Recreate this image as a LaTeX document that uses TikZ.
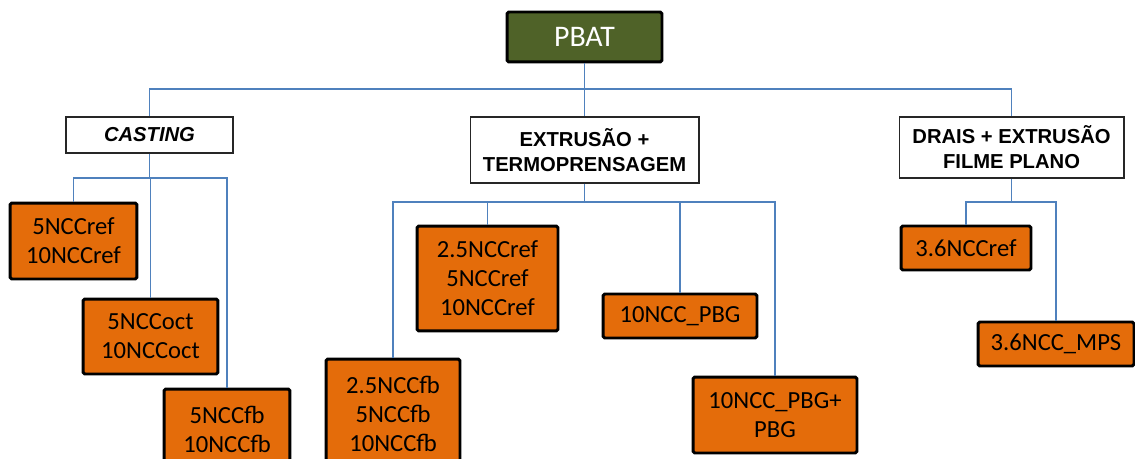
\documentclass[tikz,border=0pt]{standalone}
\usepackage{fontspec}
\setmainfont{Liberation Sans}
\newfontfamily\calibfont{Carlito}
\usepackage{tikz}
\usetikzlibrary{positioning}
\usepackage{xcolor}
\definecolor{rootgreen}{HTML}{4F6228}
\definecolor{leaforange}{HTML}{E46C0A}
\definecolor{linkblue}{HTML}{4F81BD}

\begin{document}
\begin{tikzpicture}[x=0.02cm,y=-0.02cm,
  root/.style={draw=black,line width=1.7pt,rounded corners=1pt,fill=rootgreen,text=white,
    font=\calibfont\fontsize{17}{20}\selectfont,minimum width=3.1cm,minimum height=1cm},
  method/.style={draw=black!85,line width=0.6pt,fill=white,align=center,inner sep=2pt,
    font=\bfseries\fontsize{11.5}{14.2}\selectfont},
  leaf/.style={draw=black,line width=1.7pt,rounded corners=1pt,fill=leaforange,align=center,
    inner sep=2pt,font=\calibfont\fontsize{14}{16.5}\selectfont},
  link/.style={draw=linkblue,line width=0.6pt}]
\useasboundingbox (0,0) rectangle (1135,459);
\clip (0,0) rectangle (1135,459);
% bus levels
\coordinate (topbus) at (0,89);
\coordinate (castbus) at (0,178);
\coordinate (extrbus) at (0,202);
\coordinate (draisbus) at (0,202);
% nodes
\node[root] (pbat) at (584.5,37) {PBAT};
\node[method,minimum width=3.34cm,minimum height=0.72cm] (cast) at (149.5,135) {\textit{CASTING}};
\node[method,minimum width=4.58cm,minimum height=1.32cm] (extr) at (584.5,150) {EXTRUSÃO +\\TERMOPRENSAGEM};
\node[method,minimum width=4.5cm,minimum height=1.22cm] (drais) at (1011.5,147.5) {DRAIS + EXTRUSÃO\\FILME PLANO};
\node[leaf,minimum width=2.54cm,minimum height=1.52cm] (ref5) at (73.5,241) {5NCCref\\10NCCref};
\node[leaf,minimum width=2.7cm,minimum height=1.5cm] (oct5) at (150.5,336.5) {5NCCoct\\10NCCoct};
\node[leaf,minimum width=2.52cm,minimum height=1.6cm] (fb5) at (227,429) {5NCCfb\\10NCCfb};
\node[leaf,minimum width=2.82cm,minimum height=2.1cm] (ref25) at (487.5,278.5) {2.5NCCref\\5NCCref\\10NCCref};
\node[leaf,minimum width=2.68cm,minimum height=2.2cm] (fb25) at (393,414) {2.5NCCfb\\5NCCfb\\10NCCfb};
\node[leaf,minimum width=3.08cm,minimum height=0.88cm] (pbg) at (680,316) {10NCC\_PBG};
\node[leaf,minimum width=3.28cm,minimum height=1.52cm] (pbgpbg) at (775,415) {10NCC\_PBG+\\PBG};
\node[leaf,minimum width=2.6cm,minimum height=0.88cm] (ref36) at (966,248) {3.6NCCref};
\node[leaf,minimum width=3.12cm,minimum height=0.88cm] (mps36) at (1056,344) {3.6NCC\_MPS};
% connectors
\draw[link] (pbat.south) -- (extr.north);
\draw[link] (pbat.south |- topbus) -| (cast.north);
\draw[link] (pbat.south |- topbus) -| (drais.north);
\draw[link] (cast.south) -- (cast.south |- castbus);
\foreach \n in {ref5,oct5,fb5}
  \draw[link] (cast.south |- castbus) -| (\n.north);
\draw[link] (extr.south) -- (extr.south |- extrbus);
\foreach \n in {fb25,ref25,pbg,pbgpbg}
  \draw[link] (extr.south |- extrbus) -| (\n.north);
\draw[link] (drais.south) -- (drais.south |- draisbus);
\foreach \n in {ref36,mps36}
  \draw[link] (drais.south |- draisbus) -| (\n.north);
\end{tikzpicture}
\end{document}
